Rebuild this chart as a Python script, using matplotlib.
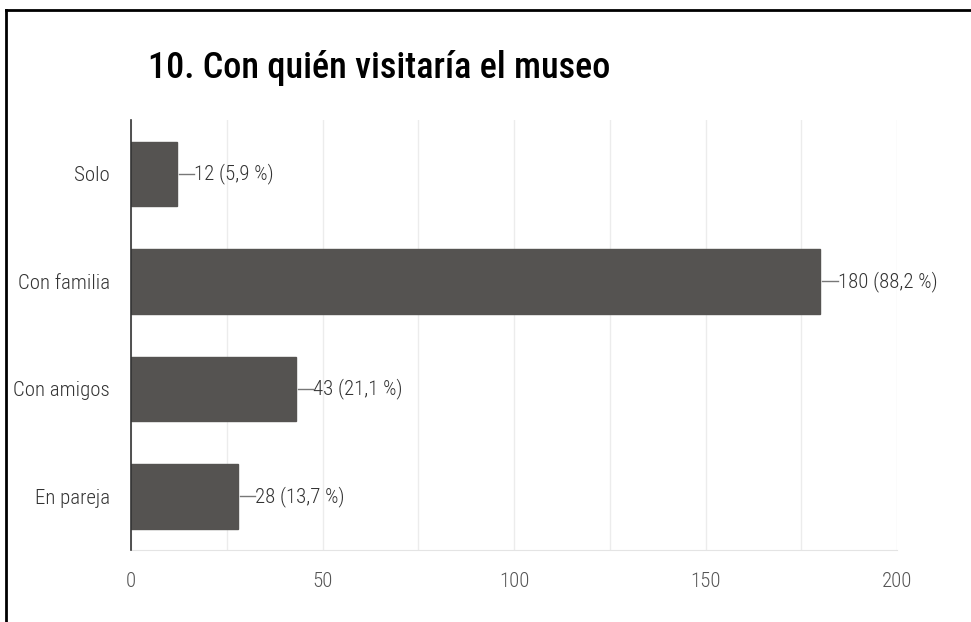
import matplotlib
matplotlib.use("Agg")
import matplotlib.pyplot as plt
from matplotlib import font_manager
from matplotlib.lines import Line2D

categories = ["Solo", "Con familia", "Con amigos", "En pareja"]
values = [12, 180, 43, 28]
percents = ["5,9", "88,2", "21,1", "13,7"]
xticks = [0, 50, 100, 150, 200]

names = {f.name for f in font_manager.fontManager.ttflist}
fam = [n for n in ["Liberation Sans Narrow", "Roboto Condensed", "Liberation Sans"] if n in names] + ["DejaVu Sans"]
plt.rcParams['font.family'] = fam

W, H = 971, 622
fig = plt.figure(figsize=(W / 100, H / 100), dpi=100)
ax = fig.add_axes([131 / W, 1 - 550 / H, (897 - 131) / W, (550 - 120) / H])

ypos = list(range(len(categories)))
ax.barh(ypos, values, height=0.6, color="#555351", edgecolor="#555351", zorder=3)
ax.set_ylim(len(categories) - 0.5, -0.5)
ax.set_xlim(0, 200)
ax.set_yticks(ypos)
ax.set_yticklabels(categories, fontsize=15, color="#333333", fontweight="light")
ax.set_xticks(xticks)
ax.set_xticklabels([str(t) for t in xticks], fontsize=15, color="#555555", fontweight="light")
ax.set_xticks(range(0, 201, 25), minor=True)
ax.tick_params(axis="both", length=0, which="both")
ax.tick_params(axis="y", pad=15)
ax.tick_params(axis="x", pad=16)
ax.grid(axis="x", which="both", color="#ececec", linewidth=1, zorder=0)
for s in ["top", "right"]:
    ax.spines[s].set_visible(False)
ax.spines["bottom"].set_color("#e4e4e4")
ax.spines["left"].set_color("#333333")
ax.spines["left"].set_linewidth(1.2)
ax.spines["left"].set_zorder(4)

for y, v, p in zip(ypos, values, percents):
    ax.plot([v + 0.5, v + 4.5], [y, y], color="#777777", linewidth=1, zorder=5, clip_on=False)
    ax.text(v + 4.5, y, f"{v} ({p} %)", va="center", ha="left", fontsize=15, color="#333333",
            fontweight="light", clip_on=False)

fig.text(148 / W, 1 - 68 / H, "10. Con quién visitaría el museo", fontsize=26, fontweight="medium",
         va="center", ha="left", color="#000000")

# frame lines (top and left)
fig.add_artist(Line2D([6 / W, 1], [1 - 10 / H, 1 - 10 / H], color="black", linewidth=2, transform=fig.transFigure))
fig.add_artist(Line2D([6 / W, 6 / W], [0, 1 - 10 / H], color="black", linewidth=2, transform=fig.transFigure))

fig.savefig("out.png", dpi=100)
